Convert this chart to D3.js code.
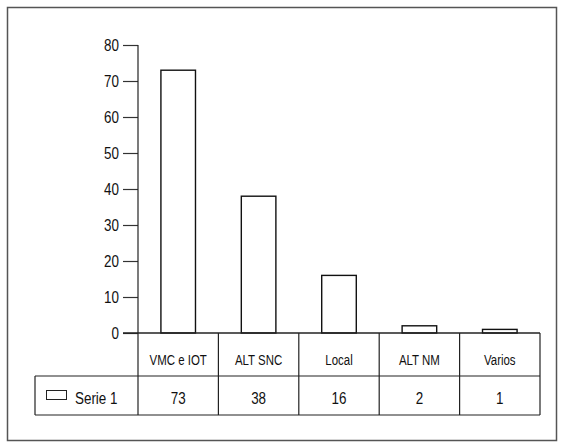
<!DOCTYPE html>
<html>
<head>
<meta charset="utf-8">
<script src="https://cdn.jsdelivr.net/npm/d3@7/dist/d3.min.js"></script>
<style>
  html, body { margin: 0; padding: 0; background: #fff; }
  svg { display: block; }
  text { font-family: "Liberation Sans", Arial, sans-serif; fill: #111; }
</style>
</head>
<body>
<svg id="chart" width="564" height="448"></svg>
<script>
const categories = ["VMC e IOT", "ALT SNC", "Local", "ALT NM", "Varios"];
const values = [73, 38, 16, 2, 1];
const seriesName = "Serie 1";
const yTicks = [0, 10, 20, 30, 40, 50, 60, 70, 80];

const NARROW = 0.79;
const svg = d3.select("#chart");

// outer frame
svg.append("rect")
  .attr("x", 7.5).attr("y", 7.5)
  .attr("width", 549).attr("height", 433)
  .attr("fill", "none").attr("stroke", "#555").attr("stroke-width", 1.5);

const plotLeft = 138, plotRight = 540;
const y0 = 333, yTop = 45;
const row1Bottom = 376, row2Bottom = 415;
const tableLeft = 35;

const y = d3.scaleLinear().domain([0, 80]).range([y0, yTop]);
const x = d3.scaleBand().domain(categories).range([plotLeft, plotRight])
  .paddingInner(0.57).paddingOuter(0.285);
const cell = d3.scaleBand().domain(categories).range([plotLeft, plotRight]);

// bars
svg.append("g").selectAll("rect")
  .data(categories.map((c, i) => ({ c, v: values[i] })))
  .join("rect")
  .attr("x", d => x(d.c))
  .attr("y", d => y(d.v))
  .attr("width", x.bandwidth())
  .attr("height", d => y(0) - y(d.v))
  .attr("fill", "#fff")
  .attr("stroke", "#111")
  .attr("stroke-width", 1.4);

// y axis
const yAxis = d3.axisLeft(y).tickValues(yTicks).tickSize(15).tickPadding(4).tickFormat(d3.format("d"));
const gy = svg.append("g").attr("transform", `translate(${plotLeft},0)`).call(yAxis);
gy.select(".domain").remove();
gy.selectAll(".tick line").attr("stroke", "#333").attr("stroke-width", 1.2);
gy.selectAll(".tick text")
  .attr("font-size", 17).attr("fill", "#111")
  .attr("x", 0)
  .attr("transform", `translate(-19,0) scale(${NARROW},1)`)
  .style("font-family", '"Liberation Sans", Arial, sans-serif');

const lines = svg.append("g").attr("stroke", "#222").attr("stroke-width", 1.2);
lines.append("line").attr("x1", plotLeft).attr("x2", plotLeft).attr("y1", yTop).attr("y2", row2Bottom);
lines.append("line").attr("x1", plotLeft - 15).attr("x2", plotRight).attr("y1", y0).attr("y2", y0).attr("stroke-width", 1.6);
lines.append("line").attr("x1", tableLeft).attr("x2", plotRight).attr("y1", row1Bottom).attr("y2", row1Bottom);
lines.append("line").attr("x1", tableLeft).attr("x2", plotRight).attr("y1", row2Bottom).attr("y2", row2Bottom);
lines.append("line").attr("x1", tableLeft).attr("x2", tableLeft).attr("y1", row1Bottom).attr("y2", row2Bottom);
lines.selectAll(".sep").data(categories).join("line")
  .attr("class", "sep")
  .attr("x1", d => cell(d) + cell.bandwidth()).attr("x2", d => cell(d) + cell.bandwidth())
  .attr("y1", y0).attr("y2", row2Bottom);

// category labels
svg.append("g").selectAll("text").data(categories).join("text")
  .attr("transform", d => `translate(${cell(d) + cell.bandwidth() / 2},364.5) scale(${NARROW},1)`)
  .attr("text-anchor", "middle")
  .attr("font-size", 14.5)
  .text(d => d);

// values
svg.append("g").selectAll("text").data(categories.map((c, i) => ({ c, v: values[i] }))).join("text")
  .attr("transform", d => `translate(${cell(d.c) + cell.bandwidth() / 2},403.5) scale(${NARROW},1)`)
  .attr("text-anchor", "middle")
  .attr("font-size", 17)
  .text(d => d.v);

// legend
svg.append("rect").attr("x", 46.5).attr("y", 390.5).attr("width", 20).attr("height", 9)
  .attr("fill", "#fff").attr("stroke", "#222").attr("stroke-width", 1);
svg.append("text").attr("transform", `translate(75,403.5) scale(${NARROW},1)`).attr("font-size", 17).text(seriesName);
</script>
</body>
</html>
